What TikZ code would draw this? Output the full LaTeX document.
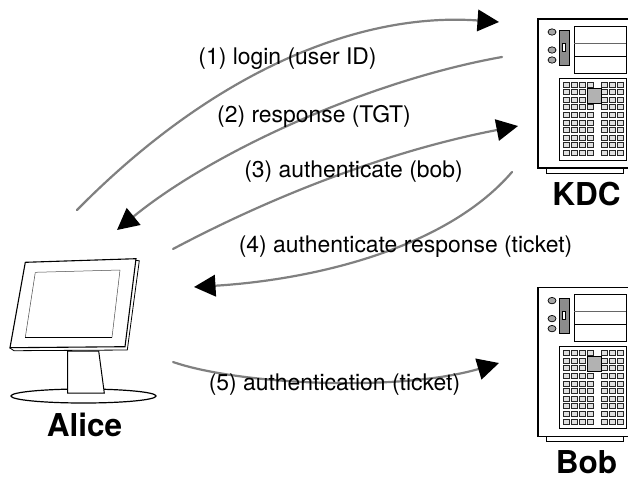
\documentclass[tikz,border=0pt]{standalone}
\usepackage{fontspec}
\setmainfont{TeX Gyre Heros}
\usetikzlibrary{arrows.meta}
\definecolor{flow}{gray}{0.5}
\tikzset{
  flowline/.style={draw=flow,line width=2.2pt,line cap=round,-{Triangle[length=21.5pt,width=21.5pt,black]}},
  msg/.style={font=\fontsize{22.9}{26}\selectfont,inner sep=0pt,anchor=center},
  whois/.style={font=\bfseries\fontsize{31.5}{36}\selectfont,inner sep=0pt,anchor=center},
  casing/.style={draw=black,line width=1.1pt,fill=white},
  thinpart/.style={draw=black,line width=0.7pt},
  cell/.style={draw=black!85,line width=0.7pt,fill=black!12},
}
\newcommand{\serverpic}[1]{%
\begin{scope}[shift={(0,#1)}]
  \draw[thinpart,fill=white] (546,168) rectangle (623,173);
  \draw[casing] (538,19) rectangle (632,168);
  \draw[thinpart] (574,26) rectangle (626,73);
  \draw[thinpart,draw=black!60] (574,43) -- (626,43);
  \draw[thinpart] (574,56) -- (626,56);
  \draw[thinpart,fill=black!45] (559,30) rectangle (569.5,65);
  \draw[thinpart,fill=white] (562.5,43) rectangle (565,51);
  \foreach \cy in {32,50,60} \draw[thinpart,fill=black!35] (552,\cy) ellipse (4 and 3.2);
  \draw[thinpart,line width=1pt,fill=white] (559,78) rectangle (626,160);
  \foreach \ry in {0,...,9} {
    \foreach \cx in {563,571,579,587,601,609,617}
      \draw[cell] (\cx,{82+7.6*\ry}) rectangle ++(6,5);
  }
  \draw[thinpart,fill=black!30] (587,88) rectangle (601,103);
\end{scope}}
\begin{document}
\begin{tikzpicture}[x=1pt,y=-1pt]
\useasboundingbox (0,0) rectangle (628,477);
\clip (0,0) rectangle (628,477);
\fill[white] (0,0) rectangle (628,477);
% Alice terminal
\draw[line width=1.2pt,fill=white] (83.5,396) ellipse (72.5 and 7);
\draw[line width=1pt,fill=white] (67.7,351) -- (98.7,351) -- (104.3,393) -- (67.7,393) -- cycle;
\draw[line width=0.8pt,fill=white] (136,260.5) -- (139.3,260.7) -- (127.3,350) -- (14,350.7) -- (10,348) -- cycle;
\draw[line width=1.1pt,fill=white] (25.3,262.3) -- (136,258.7) -- (125,346.7) -- (10,347.7) -- cycle;
\draw[line width=0.5pt,draw=black!70] (35.3,272.3) -- (120,270);
\draw[line width=0.5pt,draw=black!70] (120,270) -- (112,337.3);
\draw[line width=0.5pt,draw=black!70] (35.3,272.3) -- (25.3,337.3);
\draw[line width=0.9pt] (25.3,337.3) -- (112,337.3);
% servers
\serverpic{0}
\serverpic{268.6}
% anchors
\coordinate (a1) at (77,210);
\coordinate (k1) at (499,22);
\coordinate (k2) at (502,57);
\coordinate (a2) at (117,230);
\coordinate (a3) at (173,249);
\coordinate (k3) at (518,126);
\coordinate (k4) at (512,172);
\coordinate (a4) at (194,287);
\coordinate (a5) at (173,362);
\coordinate (b5) at (499,363);
\draw[flowline] (a1) .. controls (215,70) and (360,12) .. (k1);
\draw[flowline] (k2) .. controls (372,80) and (215,150) .. (a2);
\draw[flowline] (a3) .. controls (288,188) and (403,148) .. (k3);
\draw[flowline] (k4) .. controls (445,250) and (310,280) .. (a4);
\draw[flowline] (a5) .. controls (240,385) and (400,392) .. (b5);
% labels
\node[msg] (m1) at (287.5,59) {(1) login (user ID)};
\node[msg] (m2) at (314,116) {(2) response (TGT)};
\node[msg] (m3) at (353.5,172) {(3) authenticate (bob)};
\node[msg] (m4) at (405.5,247) {(4) authenticate response (ticket)};
\node[msg] (m5) at (334.5,385) {(5) authentication (ticket)};
\node[whois] (kdc) at (586.5,194) {KDC};
\node[whois] (bob) at (586.5,462.5) {Bob};
\node[whois] (alice) at (84.5,424.5) {Alice};
\end{tikzpicture}
\end{document}
